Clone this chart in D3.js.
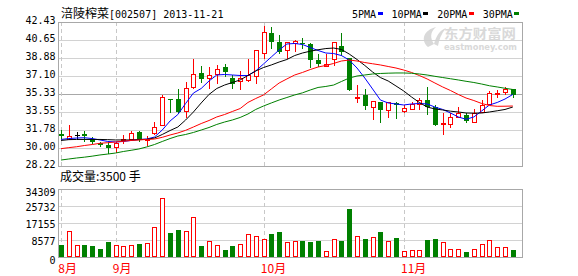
<!DOCTYPE html>
<html>
<head>
<meta charset="utf-8">
<script src="https://cdn.jsdelivr.net/npm/d3@7"></script>
<style>
  body { margin: 0; background: #fff; }
  text { font-family: "DejaVu Sans Mono", monospace; font-size: 10px; }
  .cjk { font-family: "Noto Sans CJK SC", sans-serif; font-size: 12px; }
</style>
</head>
<body>
<div id="chart"></div>
<script>
(function () {
  const TITLE_NAME = "涪陵榨菜";
  const TITLE_REST = "[002507] 2013-11-21";

  // trading days shown (2013)
  const dates = [
    "08-22", "08-23", "08-26", "08-27", "08-28", "08-29", "08-30",
    "09-02", "09-03", "09-04", "09-05", "09-06", "09-09", "09-10", "09-11", "09-12", "09-13",
    "09-16", "09-17", "09-18", "09-23", "09-24", "09-25", "09-26", "09-27", "09-30",
    "10-08", "10-09", "10-10", "10-11", "10-14", "10-15", "10-16", "10-17", "10-18",
    "10-21", "10-22", "10-23", "10-24", "10-25", "10-28", "10-29", "10-30", "10-31",
    "11-01", "11-04", "11-05", "11-06", "11-07", "11-08", "11-11", "11-12", "11-13", "11-14", "11-15",
    "11-18", "11-19", "11-20", "11-21",
  ];
  const monthNames = { "08": "8月", "09": "9月", "10": "10月", "11": "11月" };

  const open = [31.38, 30.92, 31.25, 31.38, 30.91, 30.45, 30.29, 30.07, 30.83, 30.92, 31.58, 30.75, 31.45, 32.27, 34.85, 34.83, 33.65, 36.05, 37.37, 36.87, 37.27, 37.95, 36.93, 36.64, 36.71, 37.10, 39.34, 41.35, 40.43, 39.67, 40.36, 40.38, 40.26, 38.66, 38.08, 38.78, 40.06, 38.87, 35.00, 35.25, 34.09, 34.55, 33.72, 34.44, 33.68, 33.82, 34.34, 34.73, 34.07, 32.40, 32.37, 33.08, 33.25, 32.59, 33.58, 34.34, 35.36, 35.49, 35.79];
  const high = [31.80, 32.27, 31.58, 31.64, 31.05, 30.62, 30.56, 30.60, 31.27, 31.70, 31.70, 31.20, 32.53, 35.23, 34.85, 35.82, 36.50, 38.78, 38.09, 38.02, 38.19, 38.30, 37.20, 37.62, 38.78, 39.64, 42.04, 41.90, 41.15, 40.43, 40.65, 40.88, 40.39, 39.30, 39.28, 40.50, 41.30, 38.87, 36.20, 35.79, 34.62, 34.55, 34.54, 34.54, 34.20, 34.50, 34.90, 36.05, 34.20, 33.42, 33.48, 34.07, 33.42, 33.81, 34.73, 35.65, 35.72, 36.05, 35.79];
  const low = [30.95, 30.90, 30.85, 30.69, 30.46, 30.19, 29.53, 29.57, 30.52, 30.92, 30.70, 30.30, 31.40, 32.27, 33.58, 33.48, 33.10, 35.89, 36.54, 35.89, 36.44, 37.10, 35.89, 35.82, 36.60, 36.40, 38.85, 39.85, 39.34, 38.90, 39.52, 39.90, 38.00, 38.04, 38.08, 38.18, 39.20, 35.73, 34.50, 33.86, 32.90, 32.56, 33.06, 32.99, 33.55, 33.80, 33.82, 33.35, 32.27, 31.38, 32.04, 33.08, 32.53, 32.59, 33.58, 34.34, 35.06, 35.30, 35.00];
  const close = [31.15, 31.18, 31.25, 31.15, 30.59, 30.34, 29.97, 30.52, 30.88, 31.45, 30.79, 30.85, 32.10, 35.00, 34.75, 33.58, 35.95, 37.30, 36.78, 37.20, 37.76, 37.45, 36.31, 36.87, 37.20, 39.64, 41.47, 40.48, 39.44, 40.41, 40.60, 40.28, 38.70, 38.30, 38.27, 40.45, 39.44, 35.73, 35.05, 34.18, 34.62, 33.70, 34.54, 34.21, 33.92, 34.34, 34.73, 34.07, 32.27, 32.46, 33.08, 33.42, 32.69, 33.48, 34.24, 35.39, 35.40, 35.82, 35.23];
  const volume = [6054, 12950, 5886, 6054, 5550, 4036, 7568, 5886, 5382, 5886, 6559, 6895, 14970, 29600, 12108, 13622, 12950, 20010, 5550, 7905, 5886, 3532, 5550, 6390, 11435, 10427, 8914, 11604, 12613, 7568, 8072, 8072, 7568, 8072, 2858, 9081, 8072, 24385, 10427, 9081, 10090, 12613, 8072, 9754, 2858, 3532, 3532, 8577, 9081, 7400, 3868, 3868, 2523, 3868, 6559, 8577, 5045, 5045, 3500];

  const ma5 = [30.84, 30.93, 30.98, 31.01, 30.93, 30.79, 30.64, 30.59, 30.64, 30.74, 30.84, 30.88, 31.08, 31.77, 32.66, 33.30, 34.39, 35.42, 35.87, 36.61, 37.20, 37.25, 37.20, 37.15, 37.15, 37.60, 38.29, 38.98, 39.67, 40.26, 40.31, 40.21, 39.91, 39.62, 39.37, 39.32, 39.12, 38.68, 37.89, 36.90, 35.82, 34.73, 34.44, 34.34, 34.24, 34.34, 34.39, 34.34, 34.04, 33.80, 33.45, 33.06, 32.83, 33.06, 33.65, 34.24, 34.49, 34.83, 35.28];
  const ma10 = [30.74, 30.82, 30.84, 30.84, 30.84, 30.84, 30.82, 30.79, 30.79, 30.79, 30.82, 30.85, 30.98, 31.33, 31.72, 32.07, 32.76, 33.55, 34.44, 35.28, 35.87, 36.21, 36.46, 36.71, 37.15, 37.60, 37.94, 38.19, 38.48, 38.73, 39.12, 39.37, 39.55, 39.69, 39.81, 39.86, 39.72, 39.27, 38.73, 38.14, 37.50, 36.95, 36.61, 36.12, 35.62, 35.03, 34.49, 34.04, 33.85, 33.75, 33.63, 33.55, 33.45, 33.43, 33.45, 33.55, 33.67, 33.80, 34.04];
  const ma20 = [29.93, 30.03, 30.12, 30.24, 30.34, 30.46, 30.52, 30.59, 30.66, 30.74, 30.79, 30.84, 30.88, 31.05, 31.28, 31.48, 31.74, 32.07, 32.41, 32.71, 33.06, 33.30, 33.60, 33.89, 34.49, 34.88, 35.23, 35.82, 36.41, 36.81, 37.20, 37.45, 37.74, 37.99, 38.14, 38.34, 38.58, 38.68, 38.58, 38.43, 38.31, 38.19, 38.04, 37.89, 37.69, 37.45, 37.15, 36.81, 36.41, 36.02, 35.67, 35.28, 34.93, 34.68, 34.39, 34.19, 34.11, 34.12, 34.14];
  const ma30 = [28.81, 28.91, 29.01, 29.09, 29.19, 29.31, 29.40, 29.50, 29.65, 29.77, 29.90, 30.10, 30.34, 30.64, 30.93, 31.18, 31.33, 31.53, 31.77, 32.02, 32.32, 32.56, 32.76, 33.01, 33.35, 33.80, 34.14, 34.44, 34.73, 34.98, 35.23, 35.44, 35.72, 35.97, 36.07, 36.21, 36.56, 36.90, 37.10, 37.20, 37.30, 37.35, 37.38, 37.40, 37.40, 37.37, 37.30, 37.20, 37.07, 36.95, 36.83, 36.71, 36.58, 36.46, 36.31, 36.14, 36.02, 35.89, 35.77];

  const priceTicks = ["42.43", "40.65", "38.88", "37.10", "35.33", "33.55", "31.78", "30.00", "28.22"];
  const volTicks = ["34309", "25732", "17155", "8577", "0"];
  const maNames = ["5PMA", "10PMA", "20PMA", "30PMA"];
  const maColors = ["#0000ff", "#000000", "#ff0000", "#008000"];
  const VOL_LABEL = "成交量:3500 手";

  const RED = "#ff0000";
  const GREEN = "#008000";
  const width = 578;
  const height = 276;
  const pricePanel = { left: 58, right: 522, top: 22, bottom: 166 };
  const volPanel = { left: 58, right: 522, top: 189, bottom: 257 };

  const svg = d3
    .select("#chart")
    .append("svg")
    .attr("width", width)
    .attr("height", height);

  const px = (v) => Math.round(v) + 0.5;

  const x = d3.scaleLinear().domain([0, dates.length - 1]).range([61, 512.8]);
  const y = d3
    .scaleLinear()
    .domain([+priceTicks[priceTicks.length - 1], +priceTicks[0]])
    .range([pricePanel.bottom, pricePanel.top]);
  const yv = d3
    .scaleLinear()
    .domain([0, +volTicks[0]])
    .range([volPanel.bottom, volPanel.top]);

  // watermark
  const wm = svg.append("g").style("fill", "#d9d9d9");
  wm.append("path")
    .attr("d", "M428,47 C420,40 424,30 436,27 C430,32 430,38 434,44 Z M434,44 C436,36 440,30 446,28 C441,34 439,40 438,46 Z");
  wm.append("text")
    .attr("class", "cjk")
    .attr("x", 444)
    .attr("y", 38)
    .style("font-size", "13px")
    .style("font-weight", "bold")
    .attr("textLength", 72)
    .attr("lengthAdjust", "spacingAndGlyphs")
    .text("东方财富网");
  wm.append("text")
    .attr("x", 444)
    .attr("y", 50)
    .style("font-family", "Verdana, 'DejaVu Sans', sans-serif")
    .style("font-size", "9px")
    .style("font-weight", "bold")
    .attr("textLength", 73)
    .attr("lengthAdjust", "spacingAndGlyphs")
    .text("eastmoney.com");

  // gridlines and borders
  function drawGrid(panel, ticks, scale, midIndex) {
    const g = svg.append("g").attr("shape-rendering", "crispEdges");
    ticks.forEach((t, i) => {
      g.append("line")
        .attr("x1", panel.left)
        .attr("x2", panel.right)
        .attr("y1", px(scale(+t)))
        .attr("y2", px(scale(+t)))
        .style("stroke", i === midIndex ? "#a8a8a8" : "#d2d2d2");
    });
    dates.forEach((d, i) => {
      if (i > 0 && d.slice(0, 2) === dates[i - 1].slice(0, 2)) return;
      g.append("line")
        .attr("x1", px(x(i)))
        .attr("x2", px(x(i)))
        .attr("y1", panel.top)
        .attr("y2", panel.bottom)
        .style("stroke", "#c8c8c8")
        .style("stroke-dasharray", "4,3");
    });
    g.append("rect")
      .attr("x", panel.left + 0.5)
      .attr("y", panel.top + 0.5)
      .attr("width", panel.right - panel.left)
      .attr("height", panel.bottom - panel.top)
      .style("fill", "none")
      .style("stroke", "#a8a8a8");
  }
  drawGrid(pricePanel, priceTicks, y, 4);
  drawGrid(volPanel, volTicks, yv, -1);

  // axis labels
  priceTicks.forEach((t) => {
    svg.append("text")
      .attr("x", 55.5)
      .attr("y", y(+t) + 1.8)
      .attr("text-anchor", "end")
      .text(t);
  });
  volTicks.forEach((t, i) => {
    const dy = i === 0 || i === volTicks.length - 1 ? 7 : 4.7;
    svg.append("text")
      .attr("x", 55.5)
      .attr("y", yv(+t) + dy)
      .attr("text-anchor", "end")
      .text(t);
  });

  // month labels
  dates.forEach((d, i) => {
    if (i > 0 && d.slice(0, 2) === dates[i - 1].slice(0, 2)) return;
    svg.append("text")
      .attr("class", "cjk")
      .attr("x", Math.max(58, x(i) - 2.7))
      .attr("y", 272.5)
      .style("fill", RED)
      .text(monthNames[d.slice(0, 2)]);
  });

  // title
  const title = svg.append("text").attr("x", 61).attr("y", 18);
  title.append("tspan").attr("class", "cjk").text(TITLE_NAME);
  title.append("tspan").text(TITLE_REST);

  // legend
  let lx = 352;
  maNames.forEach((name, i) => {
    svg.append("text").attr("x", lx).attr("y", 18).text(name);
    const w = name.length * 6.02;
    svg.append("rect")
      .attr("x", Math.round(lx + w + 1.5))
      .attr("y", 12)
      .attr("width", 5)
      .attr("height", 3)
      .style("fill", maColors[i]);
    lx += w + 1.5 + 5 + 9;
  });

  svg.append("text")
    .attr("x", 60)
    .attr("y", 181)
    .attr("class", "cjk")
    .text(VOL_LABEL);

  // candlesticks
  const candles = svg.append("g").attr("shape-rendering", "crispEdges");
  dates.forEach((d, i) => {
    const cx = Math.round(x(i));
    const o = open[i];
    const c = close[i];
    const color = c > o ? RED : c < o ? GREEN : "#000000";
    candles.append("line")
      .attr("x1", cx + 0.5)
      .attr("x2", cx + 0.5)
      .attr("y1", Math.round(y(high[i])))
      .attr("y2", Math.round(y(low[i])) + 1)
      .style("stroke", color);
    const top = Math.round(y(Math.max(o, c)));
    const bot = Math.round(y(Math.min(o, c)));
    if (c > o) {
      candles.append("rect")
        .attr("x", cx - 1.5)
        .attr("y", top + 0.5)
        .attr("width", 4)
        .attr("height", Math.max(1, bot - top))
        .style("fill", "#fff")
        .style("stroke", RED);
    } else if (c < o) {
      candles.append("rect")
        .attr("x", cx - 2)
        .attr("y", top)
        .attr("width", 5)
        .attr("height", Math.max(1, bot - top))
        .style("fill", GREEN);
    } else {
      candles.append("line")
        .attr("x1", cx - 2)
        .attr("x2", cx + 3)
        .attr("y1", top + 0.5)
        .attr("y2", top + 0.5)
        .style("stroke", color);
    }
  });

  // volume bars
  const bars = svg.append("g").attr("shape-rendering", "crispEdges");
  volume.forEach((v, i) => {
    const cx = Math.round(x(i));
    const top = Math.round(yv(v));
    if (close[i] >= open[i]) {
      bars.append("rect")
        .attr("x", cx - 1.5)
        .attr("y", top + 0.5)
        .attr("width", 4)
        .attr("height", volPanel.bottom - top - 1)
        .style("fill", "#fff")
        .style("stroke", RED);
    } else {
      bars.append("rect")
        .attr("x", cx - 2)
        .attr("y", top)
        .attr("width", 5)
        .attr("height", volPanel.bottom - top)
        .style("fill", GREEN);
    }
  });

  // moving averages
  const line = d3.line().x((d, i) => x(i)).y((d) => y(d));
  [ma5, ma10, ma20, ma30].forEach((series, k) => {
    svg.append("path")
      .datum(series)
      .attr("d", line)
      .style("fill", "none")
      .style("stroke", maColors[k])
      .style("stroke-width", 1);
  });
})();
</script>
</body>
</html>
